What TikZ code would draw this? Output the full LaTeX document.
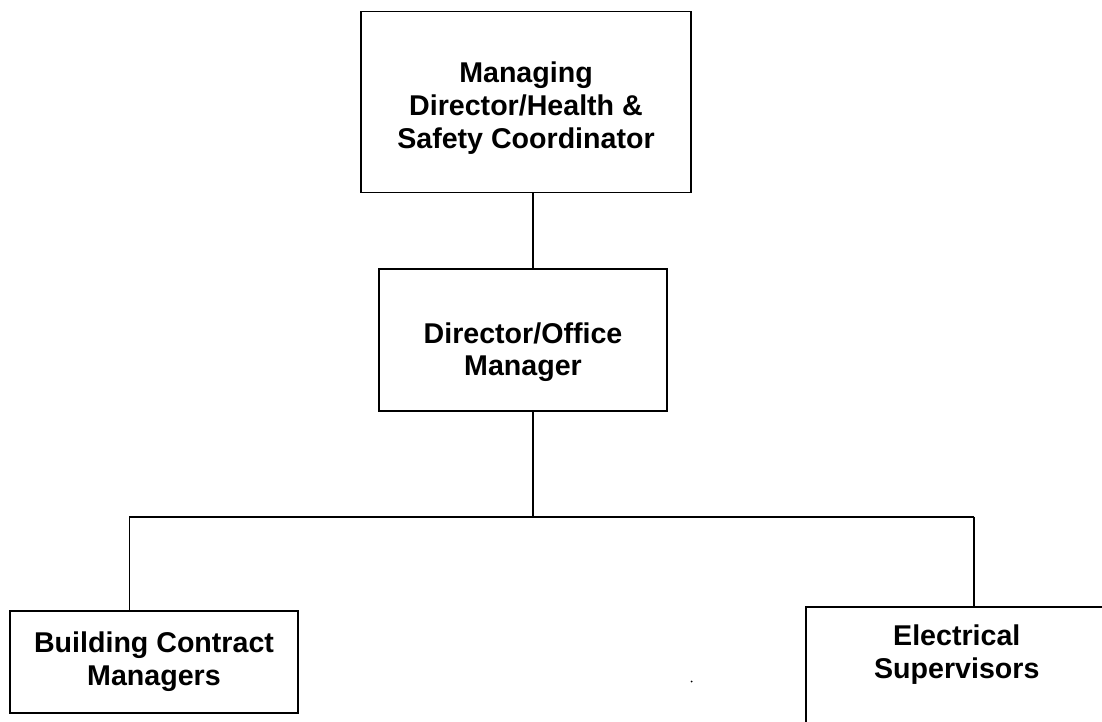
\documentclass[tikz,border=0pt]{standalone}
\usepackage{fontspec}
\setmainfont{Liberation Sans}
\usepackage{tikz}
\usetikzlibrary{positioning}

\begin{document}
\begin{tikzpicture}[
  x=1pt, y=1pt,
  line width=1.6pt,
  orgbox/.style={rectangle, draw, inner sep=0pt, align=center,
    font=\fontsize{28.6}{33}\selectfont\bfseries}]
  \path[use as bounding box, clip] (0,0) rectangle (1102,721);
  % boxes
  \node[orgbox, minimum width=330pt, minimum height=181pt, text depth=0pt] (md) at (526,618.8)
    {\rule{0pt}{27.3pt}Managing\\Director/Health \&\\Safety Coordinator};
  \node[orgbox, minimum width=288pt, minimum height=142pt, text depth=0pt] (dom) at (523,381)
    {\rule{0pt}{39pt}Director/Office\\Manager};
  \node[orgbox, minimum width=288pt, minimum height=102pt] (bcm) at (154,59)
    {Building Contract\\Managers};
  \node[orgbox, anchor=north west, minimum width=302pt, inner ysep=18pt,
    text depth=70pt] (elec) at (805,115)
    {Electrical\\Supervisors};
  % links
  \coordinate (barM) at (533,204.3);
  \coordinate (barL) at (129.3,204.3);
  \coordinate (barR) at (974,204.3);
  \draw (md.south -| barM) -- (dom.north -| barM);
  \draw (dom.south -| barM) -- (barM);
  \draw (barL) -- (barR);
  \draw (barL) -- (bcm.north -| barL);
  \draw (barR) -- (elec.north -| barR);
  \fill (691.5,39.5) circle (1pt);
\end{tikzpicture}
\end{document}
